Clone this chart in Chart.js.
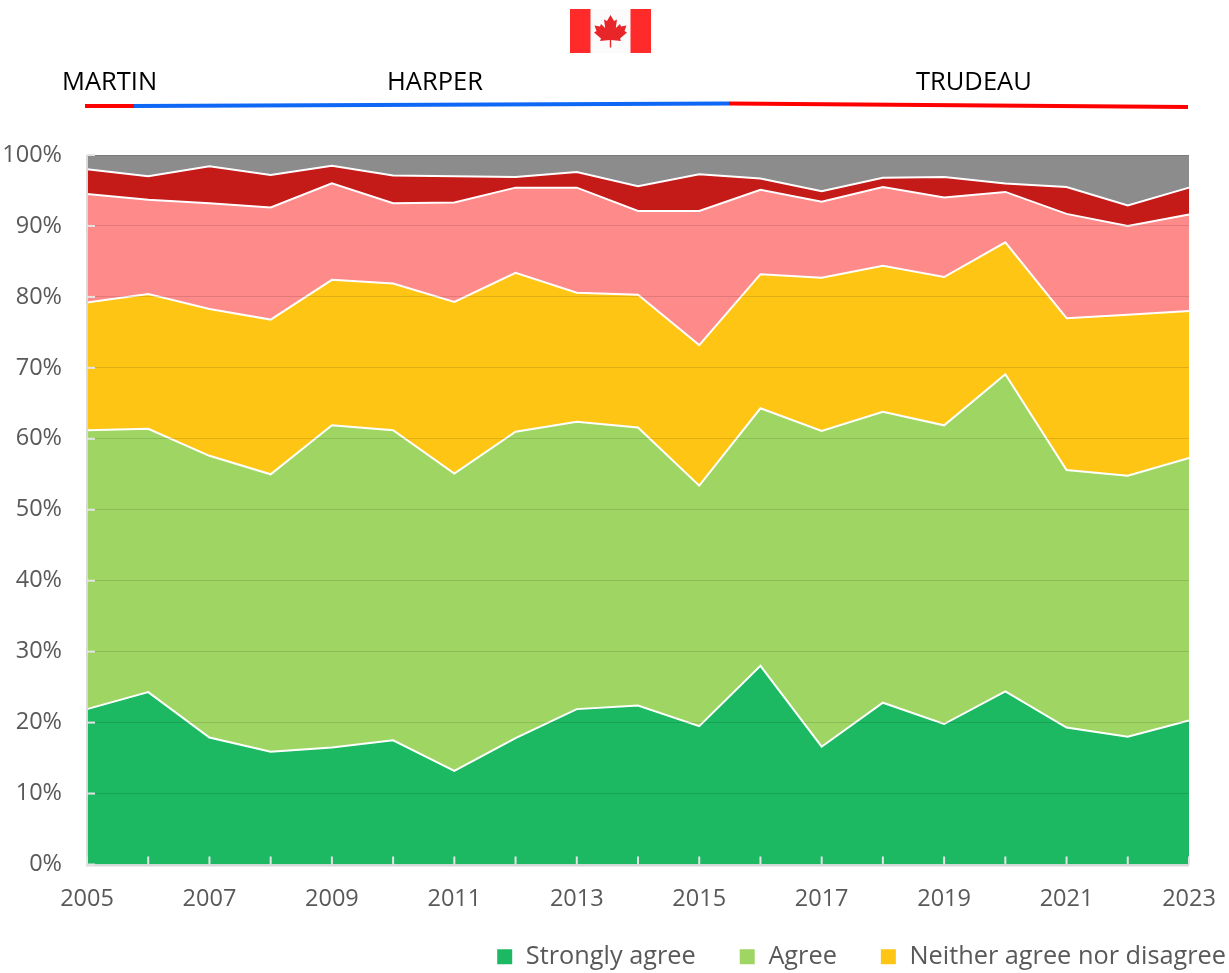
<!DOCTYPE html>
<html><head><meta charset="utf-8">
<script src="https://cdn.jsdelivr.net/npm/chart.js@4/dist/chart.umd.min.js"></script>
<style>html,body{margin:0;padding:0;background:#fff}#w{position:relative;width:1229px;height:973px;overflow:hidden}
canvas{position:absolute;left:0;top:0}
#flag{position:absolute;left:570px;top:9px}
</style></head><body>
<div id="w"><canvas id="c" width="1229" height="973"></canvas>
<svg id="flag" width="81" height="44" viewBox="0 0 81 44">
<rect width="81" height="44" fill="#fbfbfb"/><rect width="20.5" height="44" fill="#ff2a2a"/><rect x="60.5" width="20.5" height="44" fill="#ff2a2a"/>
<path fill="#e8262a" d="M40.5 6 L44 12 L47 10.5 L45.8 19 L50 15 L51 17.5 L56.5 16.5 L54.5 22 L57 23.5 L50 29.5 L51 32 L41.2 31 L41.2 38.5 L39.8 38.5 L39.8 31 L30 32 L31 29.5 L24 23.5 L26.5 22 L24.5 16.5 L30 17.5 L31 15 L35.2 19 L34 10.5 L37 12 Z"/>
</svg></div>
<script>
const years=[2005,2006,2007,2008,2009,2010,2011,2012,2013,2014,2015,2016,2017,2018,2019,2020,2021,2022,2023];
const stronglyAgree=[21.9,24.3,17.9,15.9,16.5,17.5,13.2,17.8,21.9,22.4,19.5,28.0,16.6,22.8,19.8,24.4,19.3,18.0,20.3];
const agree=[39.3,37.1,39.7,39.1,45.4,43.7,41.9,43.2,40.5,39.2,33.9,36.3,44.5,41.0,42.1,44.7,36.3,36.8,37.0];
const neither=[18.0,19.0,20.7,21.8,20.5,20.7,24.2,22.4,18.2,18.7,19.8,18.9,21.6,20.6,20.9,18.6,21.4,22.7,20.7];
const disagree=[15.3,13.3,14.9,15.8,13.6,11.3,14.0,12.0,14.8,11.8,18.9,11.9,10.7,11.1,11.2,7.1,14.7,12.5,13.6];
const stronglyDisagree=[3.5,3.3,5.2,4.6,2.5,3.9,3.7,1.5,2.2,3.5,5.2,1.6,1.5,1.3,2.9,1.2,3.8,2.9,3.8];
const dontKnow=[2.0,3.0,1.6,2.8,1.5,2.9,3.0,3.1,2.4,4.4,2.7,3.3,5.1,3.2,3.1,4.0,4.5,7.1,4.6];
const seriesNames=["Strongly agree","Agree","Neither agree nor disagree","Disagree","Strongly disagree","Don't know"];
const seriesValues=[stronglyAgree,agree,neither,disagree,stronglyDisagree,dontKnow];
const seriesColors=["#1cb962","#9fd663","#ffc515","#ff8a8a","#c41a18","#8c8c8c"];
const legendCount=3;
const FONT='"Open Sans"';
const leaders=[
 {name:"MARTIN",tx:62,ty:83,color:"#ff0000",x1:85,y1:106,x2:134,y2:106},
 {name:"HARPER",tx:387,ty:83,color:"#0f67f5",x1:134,y1:106,x2:729,y2:103.5},
 {name:"TRUDEAU",tx:916,ty:83,color:"#ff0000",x1:729,y1:103.5,x2:1188,y2:107}
];
const decor={id:'decor',
 afterLayout(ch){const L=ch.legend;L.left=0;L.right=1269;L.top=901;L.adjustHitBoxes&&L.adjustHitBoxes();},
 afterDraw(ch){
  const g=ch.ctx,a=ch.chartArea,sx=ch.scales.x,sy=ch.scales.y;
  g.save();
  g.strokeStyle='#d9d9d9';g.lineWidth=2;
  g.beginPath();g.moveTo(a.left,a.top);g.lineTo(a.left,a.bottom+1);g.lineTo(a.right,a.bottom+1);g.stroke();
  g.strokeStyle='#e4e4e4';g.lineWidth=2;
  years.forEach((y,i)=>{const x=sx.getPixelForValue(i);g.beginPath();g.moveTo(x,a.bottom);g.lineTo(x,a.bottom-8);g.stroke();});
  sy.ticks.forEach(t=>{const y=sy.getPixelForValue(t.value);g.beginPath();g.moveTo(a.left,y);g.lineTo(a.left+8,y);g.stroke();});
  leaders.forEach(l=>{g.strokeStyle=l.color;g.lineWidth=4;g.beginPath();g.moveTo(l.x1,l.y1);g.lineTo(l.x2,l.y2);g.stroke();
   g.fillStyle='#000';g.font='25.5px '+FONT;g.textBaseline='middle';g.textAlign='left';g.fillText(l.name,l.tx,l.ty);});
  g.restore();
 }};
new Chart(document.getElementById('c'),{
 type:'line',
 data:{labels:years,datasets:seriesNames.map((n,i)=>({label:n,data:seriesValues[i],backgroundColor:seriesColors[i],borderColor:i==5?'#d9d9d9':'#ffffff',borderWidth:i==5?0:2,pointRadius:0,tension:0,fill:i==0?'origin':'-1'}))},
 plugins:[decor],
 options:{responsive:false,animation:false,
  layout:{padding:{left:0,right:40,top:155,bottom:-40}},
  plugins:{title:{display:false},tooltip:{enabled:false},
   legend:{position:'bottom',align:'end',labels:{boxWidth:17,boxHeight:17,padding:43,color:'#595959',font:{family:FONT,size:25.3},filter:(it)=>it.datasetIndex<legendCount}}},
  scales:{
   x:{type:'category',offset:false,afterFit(s){s.paddingLeft=0;s.paddingRight=0;},grid:{display:false,drawTicks:false},border:{display:false},
      ticks:{autoSkip:false,maxRotation:0,padding:21,color:'#595959',font:{family:FONT,size:23.5},callback(v,i){return i%2==0?years[i]:'';}}},
   y:{stacked:true,min:0,max:100,afterFit(s){s.width=87;s.paddingTop=0;s.paddingBottom=0;},grid:{z:1,color:'rgba(0,0,0,0.12)',drawTicks:false},border:{display:false},
      ticks:{stepSize:10,padding:25,color:'#595959',font:{family:FONT,size:23.5},callback:v=>v+'%'}}
  }}
});
</script></body></html>
